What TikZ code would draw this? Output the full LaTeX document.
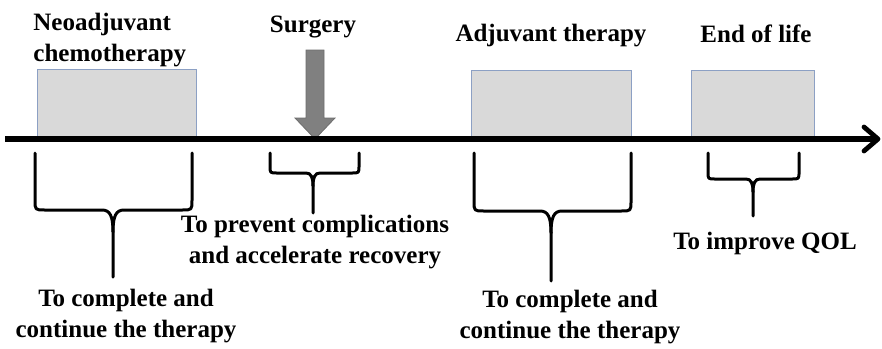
\documentclass[tikz,border=0pt]{standalone}
\usepackage{fontspec}
\setmainfont{Liberation Serif}
\usetikzlibrary{arrows.meta}

\definecolor{boxgray}{RGB}{217,217,217}
\definecolor{boxedge}{RGB}{140,160,196}
\definecolor{surggray}{RGB}{128,128,128}

\tikzset{
  phase/.style={fill=boxgray, draw=boxedge, line width=0.5pt},
  brace/.style={line width=1.5pt, line cap=round, line join=round},
  lbl/.style={inner sep=0pt, font=\bfseries\fontsize{12.5}{15.2}\selectfont, align=center},
}

\begin{document}
\begin{tikzpicture}[x=0.5pt, y=-0.5pt]
		\useasboundingbox (0,0) rectangle (882,348);
		% phases above the time line
		\draw [phase] (37,69) rectangle (196,138);
		\draw [phase] (471,70) rectangle (631,138);
		\draw [phase] (691,70) rectangle (814,138);
		\node [lbl, align=left, anchor=north west] (neo) at (33,13) {Neoadjuvant\\chemotherapy};
		\node [lbl, anchor=north] (surgery) at (313,16) {Surgery};
		\node [lbl, anchor=north] (adjuvant) at (551,24) {Adjuvant therapy};
		\node [lbl, anchor=north] (endlife) at (756,24) {End of life};
		\fill [surggray, draw=surggray!85!black, line width=0.4pt] (306,50) -- (324,50) -- (324,118) -- (335,118) -- (315,139) -- (295,118) -- (306,118) -- cycle;
		% time line
		\draw [line width=2.6pt] (5,139) -- (876,139);
		\draw [line width=2.4pt, line cap=round, line join=round] (864,127) -- (878,139) -- (864,151);
		% braces
		\draw [brace] (35,153) -- (35,200) .. controls (35,210) .. (45,210) -- (102,210) .. controls (110,210) and (113,216) .. (113,232) -- (113,277);
		\draw [brace] (192,153) -- (192,200) .. controls (192,210) .. (182,210) -- (124,210) .. controls (116,210) and (113,216) .. (113,232);
		\draw [brace] (270,153) -- (270,166) .. controls (270,173) .. (277,173) -- (306,173) .. controls (311,173) and (313,177) .. (313,186) -- (313,213);
		\draw [brace] (359,153) -- (359,166) .. controls (359,173) .. (352,173) -- (320,173) .. controls (315,173) and (313,177) .. (313,186);
		\draw [brace] (474,153) -- (474,201) .. controls (474,211) .. (484,211) -- (540,211) .. controls (548,211) and (551,217) .. (551,233) -- (551,281);
		\draw [brace] (631,153) -- (631,201) .. controls (631,211) .. (621,211) -- (562,211) .. controls (554,211) and (551,217) .. (551,233);
		\draw [brace] (708,153) -- (708,172) .. controls (708,179) .. (715,179) -- (746,179) .. controls (751,179) and (753,183) .. (753,192) -- (753,216);
		\draw [brace] (799,153) -- (799,172) .. controls (799,179) .. (792,179) -- (760,179) .. controls (755,179) and (753,183) .. (753,192);
		% goals below the time line
		\node [lbl, anchor=north] (complete1) at (126,289) {To complete and\\continue the therapy};
		\node [lbl, anchor=north] (prevent) at (315,215) {To prevent complications\\and accelerate recovery};
		\node [lbl, anchor=north] (complete2) at (570,290) {To complete and\\continue the therapy};
		\node [lbl, anchor=north] (qol) at (765,232) {To improve QOL};
	\end{tikzpicture}
\end{document}
